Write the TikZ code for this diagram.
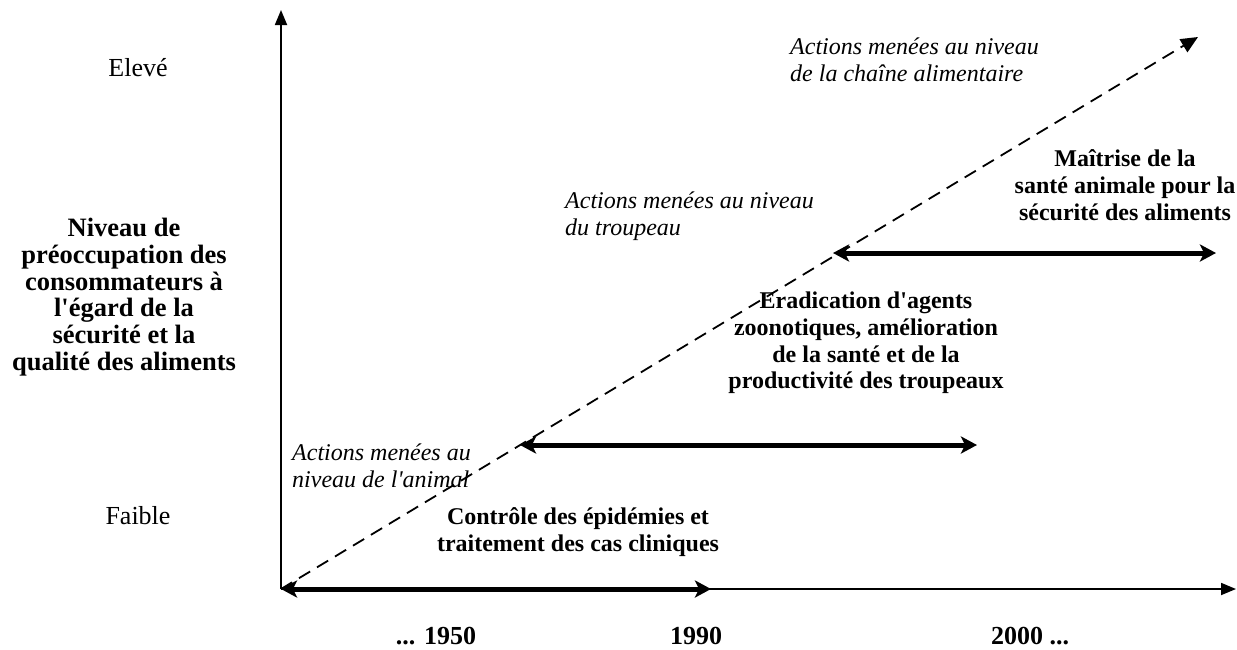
\documentclass[tikz,border=0pt]{standalone}
\usepackage{fontspec}
\setmainfont{Liberation Serif}
\usetikzlibrary{arrows.meta, positioning}

\begin{document}
\begin{tikzpicture}[
    x = 1pt, y = -1pt,
    every node/.style = {inner sep=0pt, font=\fontsize{26}{26.7}\selectfont},
    axis/.style = {-{Triangle[length=15pt, width=12pt]}, line width=1.8pt},
    trend/.style = {-{Triangle[length=17pt, width=15pt]}, line width=1.8pt, dash pattern=on 13pt off 8pt},
    span/.style = {{Stealth[length=16pt, width=17pt, inset=4pt]}-{Stealth[length=16pt, width=17pt, inset=4pt]}, line width=5pt},
    phase/.style = {align=center, font=\fontsize{24}{26.7}\selectfont\bfseries},
    scope_note/.style = {align=left, anchor=west, font=\fontsize{24}{26.7}\selectfont\itshape},
    tick/.style = {font=\fontsize{26}{26.7}\selectfont\bfseries}
]
    \useasboundingbox (0,0) rectangle (1237,649);

    % Axes
    \coordinate (origin) at (281,589);
    \coordinate (ytop) at (281,10);
    \coordinate (xend) at (1236,589);
    \coordinate (trendend) at (1198,37);
    \draw [axis] (origin) -- (ytop);
    \draw [axis] (origin) -- (xend);
    \draw [trend] (origin) -- (trendend);

    % Y axis labels
    \node (high) at (138,68) {Elevé};
    \node (low) at (138,516) {Faible};
    \node [phase, font=\fontsize{26.5}{26.7}\selectfont\bfseries] (concern) at (124,297) {Niveau de\\préoccupation des\\consommateurs à\\l\textquotesingle égard de la\\sécurité et la\\qualité des aliments};

    % X axis labels
    \node [tick] (y1950) at (436,636) {... 1950};
    \node [tick] (y1990) at (696,636) {1990};
    \node [tick] (y2000) at (1030,636) {2000 ...};

    % Levels of action
    \node [scope_note] (chain) at (790,60) {Actions menées au niveau\\de la chaîne alimentaire};
    \node [scope_note] (herd) at (565,216) {Actions menées au niveau\\du troupeau};
    \node [scope_note] (animal) at (292,466) {Actions menées au\\niveau de l\textquotesingle animal};

    % Phases
    \node [phase] (food) at (1125,185) {Maîtrise de la\\santé animale pour la\\sécurité des aliments};
    \node [phase] (erad) at (866,343) {Eradication d\textquotesingle agents\\zoonotiques, amélioration\\de la santé et de la\\productivité des troupeaux};
    \node [phase] (control) at (578,532) {Contrôle des épidémies et\\traitement des cas cliniques};

    % Periods
    \coordinate (p1end) at (711,589);
    \coordinate (p2start) at (520,445);
    \coordinate (p2end) at (977,445);
    \coordinate (p3start) at (833,253);
    \coordinate (p3end) at (1216,253);
    \draw [span] (origin) -- (p1end);
    \draw [span] (p2start) -- (p2end);
    \draw [span] (p3start) -- (p3end);

\end{tikzpicture}
\end{document}
